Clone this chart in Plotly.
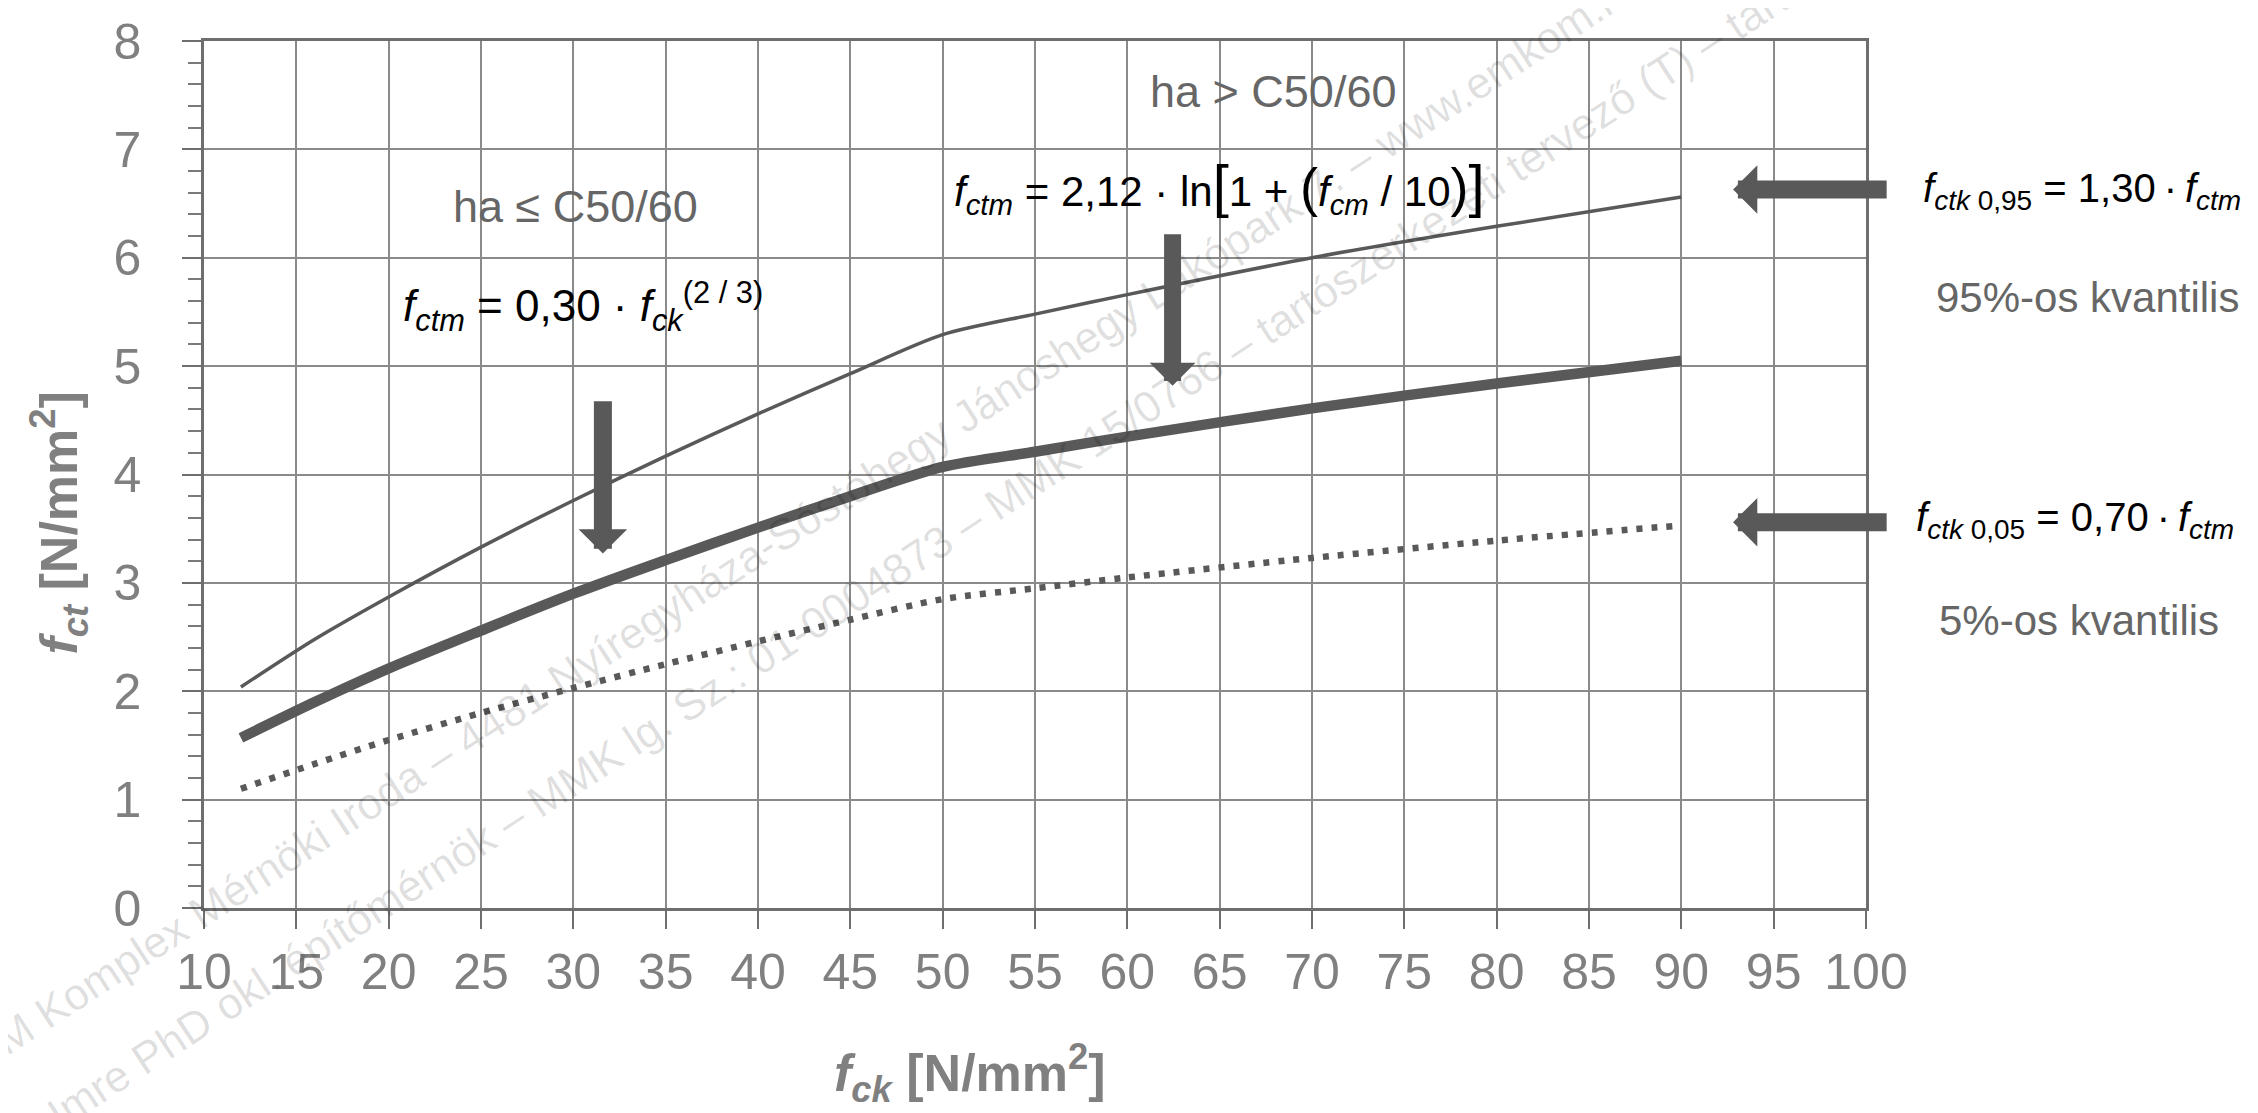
import plotly.graph_objects as go

# --- data ---
fck = [12, 16, 20, 25, 30, 35, 40, 45, 50, 55, 60, 70, 80, 90]
fctm = [1.57, 1.90, 2.21, 2.56, 2.90, 3.21, 3.51, 3.80, 4.07, 4.21, 4.35, 4.61, 4.84, 5.05]
fctk095 = [2.04, 2.48, 2.87, 3.33, 3.76, 4.17, 4.56, 4.93, 5.29, 5.48, 5.66, 6.00, 6.29, 6.56]
fctk005 = [1.10, 1.33, 1.55, 1.80, 2.03, 2.25, 2.46, 2.66, 2.85, 2.95, 3.05, 3.23, 3.39, 3.53]

x_ticks = [10, 15, 20, 25, 30, 35, 40, 45, 50, 55, 60, 65, 70, 75, 80, 85, 90, 95, 100]
y_ticks = [0, 1, 2, 3, 4, 5, 6, 7, 8]

FONT = "Liberation Sans Narrow, Arial Narrow, Liberation Sans, Arial, sans-serif"
DARK = "#595959"
GRAY = "#808080"
TXT = "#666666"
THIN = "\u2009"

fig = go.Figure()
fig.add_trace(go.Scatter(x=fck, y=fctk095, mode="lines", name="fctk0,95",
                         line=dict(color=DARK, width=3.5, shape="spline", smoothing=0.8)))
fig.add_trace(go.Scatter(x=fck, y=fctm, mode="lines", name="fctm",
                         line=dict(color=DARK, width=10.5, shape="spline", smoothing=0.8)))
fig.add_trace(go.Scatter(x=fck, y=fctk005, mode="lines", name="fctk0,05",
                         line=dict(color=DARK, width=6.5, dash="6px,9px", shape="spline", smoothing=0.8)))

fig.update_layout(
    width=2258, height=1113,
    margin=dict(l=196, r=400, t=33, b=213, autoexpand=False),
    paper_bgcolor="white", plot_bgcolor="white",
    showlegend=False,
    font=dict(family=FONT, color=GRAY),
)

fig.update_xaxes(
    range=[10, 100], tickvals=x_ticks, ticktext=[str(v) for v in x_ticks],
    showgrid=True, gridcolor="#8a8a8a", gridwidth=1.5,
    showline=True, linecolor="#6e6e6e", linewidth=2.5, mirror=True,
    ticks="outside", ticklen=18, tickwidth=1.5, tickcolor="#6e6e6e",
    tickfont=dict(family=FONT, size=50, color=GRAY),
    ticklabelstandoff=0, ticklabeloverflow="allow",
    zeroline=False,
)
fig.update_yaxes(
    range=[0, 8], tickvals=y_ticks, ticktext=[str(v) for v in y_ticks],
    showgrid=True, gridcolor="#8a8a8a", gridwidth=1.5,
    showline=True, linecolor="#6e6e6e", linewidth=2.5, mirror=True,
    ticks="outside", ticklen=19, tickwidth=1.5, tickcolor="#6e6e6e",
    minor=dict(dtick=0.2, ticks="outside", ticklen=13, tickwidth=1.5,
               tickcolor="#7a7a7a", showgrid=False),
    tickfont=dict(family=FONT, size=50, color=GRAY),
    ticklabelstandoff=31, ticklabeloverflow="allow",
    zeroline=False,
)

ann = []
# axis titles (placed as in the reference, not centred on the plot)
ann.append(dict(xref="paper", yref="paper", x=0.461, y=-0.19, xanchor="center", yanchor="middle",
                showarrow=False,
                text="<b><i>f</i><sub><i>ck</i></sub> [N/mm<sup>2</sup>]</b>",
                font=dict(family=FONT, size=52, color=GRAY)))
ann.append(dict(xref="paper", yref="paper", x=-0.087, y=0.445, xanchor="center", yanchor="middle",
                showarrow=False, textangle=-90,
                text="<b><i>f</i><sub><i>ct</i></sub> [N/mm<sup>2</sup>]</b>",
                font=dict(family=FONT, size=52, color=GRAY)))

# watermark
WM = dict(family=FONT, size=44, color="rgba(0,0,0,0.13)")
ann.append(dict(xref="paper", yref="paper", x=0.412, y=0.51, xanchor="center", yanchor="middle",
                showarrow=False, textangle=-33,
                text="ÉMKOM Komplex Mérnöki Iroda – 4481 Nyíregyháza-Sóstóhegy Jánoshegy Lakópark 7. – www.emkom.hu – MMK Ny. sz.",
                font=WM))
ann.append(dict(xref="paper", yref="paper", x=0.472, y=0.46, xanchor="center", yanchor="middle",
                showarrow=False, textangle=-33,
                text="Kovács Imre PhD okl. építőmérnök – MMK lg. Sz.: 01-0004873 – MMK 15/0766 – tartószerkezeti tervező (T) – tartószerkezeti szak",
                font=WM))

# texts inside the plot
ann.append(dict(x=30.1, y=6.47, text="ha ≤ C50/60", showarrow=False,
                font=dict(family=FONT, size=45, color=TXT)))
ann.append(dict(x=30.5, y=5.55, showarrow=False,
                text="<i>f</i><sub><i>ctm</i></sub> = 0,30 · <i>f</i><sub><i>ck</i></sub><sup>(2 / 3)</sup>",
                font=dict(family=FONT, size=44, color="black")))
ann.append(dict(x=67.9, y=7.53, text="ha > C50/60", showarrow=False,
                font=dict(family=FONT, size=45, color=TXT)))
ann.append(dict(x=65.0, y=6.65, showarrow=False,
                text=("<i>f</i><sub><i>ctm</i></sub> = 2,12 · ln<span style='font-size:58px'>[</span>1 + "
                      "<span style='font-size:54px'>(</span><i>f</i><sub><i>cm</i></sub> / 10"
                      "<span style='font-size:54px'>)</span><span style='font-size:58px'>]</span>"),
                font=dict(family=FONT, size=42, color="black")))

# texts on the right
ann.append(dict(xref="paper", yref="y", x=1.130, y=6.62, xanchor="center", showarrow=False,
                text=f"<i>f</i><sub><i>ctk</i> 0,95</sub> = 1,30{THIN}·{THIN}<i>f</i><sub><i>ctm</i></sub>",
                font=dict(family=FONT, size=40, color="black")))
ann.append(dict(xref="paper", yref="y", x=1.133, y=5.63, xanchor="center", showarrow=False,
                text="95%-os kvantilis", font=dict(family=FONT, size=42, color=TXT)))
ann.append(dict(xref="paper", yref="y", x=1.126, y=3.58, xanchor="center", showarrow=False,
                text=f"<i>f</i><sub><i>ctk</i> 0,05</sub> = 0,70{THIN}·{THIN}<i>f</i><sub><i>ctm</i></sub>",
                font=dict(family=FONT, size=40, color="black")))
ann.append(dict(xref="paper", yref="y", x=1.128, y=2.65, xanchor="center", showarrow=False,
                text="5%-os kvantilis", font=dict(family=FONT, size=42, color=TXT)))

# arrows
for (tx, ty, sx, sy, w) in [(31.6, 3.27, 31.6, 4.69, 18),
                            (62.45, 4.82, 62.45, 6.23, 17),
                            (92.8, 6.63, 101.2, 6.63, 18),
                            (92.8, 3.56, 101.2, 3.56, 18)]:
    ann.append(dict(x=tx, y=ty, ax=sx, ay=sy, axref="x", ayref="y", text="",
                    showarrow=True, arrowhead=1, arrowsize=0.45, arrowwidth=w,
                    arrowcolor=DARK, standoff=0))

fig.update_layout(annotations=ann)
fig.write_html("out.html")
